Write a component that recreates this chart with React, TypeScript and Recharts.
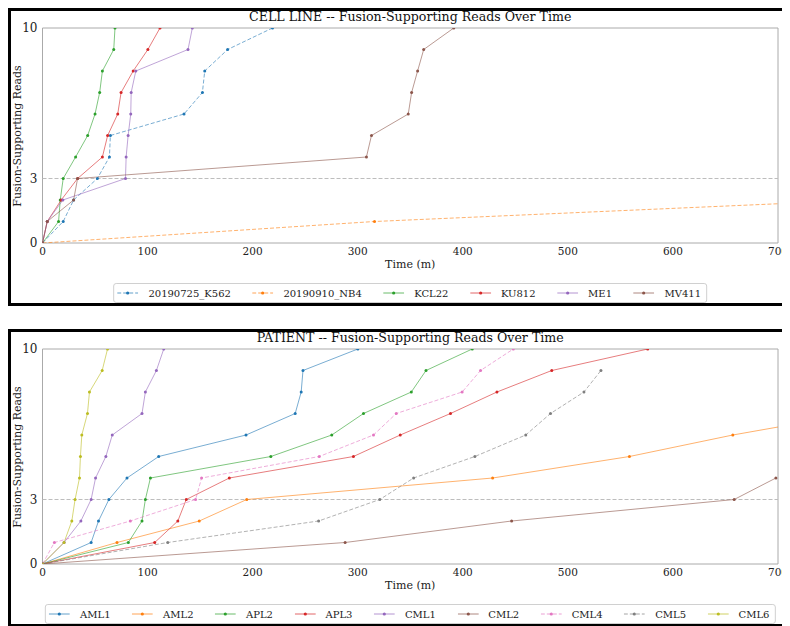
import React from 'react';
import { LineChart, Line, XAxis, YAxis, ReferenceLine, ReferenceArea } from 'recharts';

const readCounts = [0, 1, 2, 3, 4, 5, 6, 7, 8, 9, 10];
const xTicks = [0, 100, 200, 300, 400, 500, 600, 700];
const yTicks = [0, 3, 10];

// CELL LINE panel: time (minutes) at which each read count was reached
const k562Times = [0, 19.7, 29.6, 52.2, 63.7, 64.6, 134.7, 152.2, 154.4, 176.2, 218.9];
const nb4Times = [0, 316, 781];
const kcl22Times = [0, 15.3, 16.9, 19.7, 31.5, 43, 50, 54.4, 57, 67.8, 69];
const ku812Times = [0, 4.5, 17.8, 33.4, 57, 62, 71.6, 74.8, 86.3, 100.3, 111.8];
const me1Times = [0, 4.5, 19.4, 79, 79.6, 81.5, 84, 84.4, 88.8, 138.5, 142.6];
const mv411Times = [0, 4.5, 29.6, 33.4, 308.3, 313.1, 348.1, 351.3, 357, 362.8, 391.4];

// PATIENT panel
const aml1Times = [0, 46.3, 53.3, 63.2, 80.4, 110.6, 193.7, 240.5, 246.2, 247.9, 300.1];
const aml2Times = [0, 70.9, 149.2, 194.4, 428.4, 558.6, 657, 773];
const apl2Times = [0, 81.7, 94.7, 97.9, 102.7, 217.3, 275.3, 305.5, 351, 365, 409];
const apl3Times = [0, 106.8, 128.8, 136.8, 177.8, 295.9, 340.5, 388.3, 432.5, 484.7, 576];
const cml1Times = [0, 20.5, 36.5, 46.3, 50.5, 60.3, 66.4, 94.7, 97.9, 108.4, 115.4];
const cml2Times = [0, 288, 446.5, 658.3, 698];
const cml4Times = [0, 11.3, 83.6, 145.7, 151.4, 263.4, 315, 336.7, 399.4, 416.9, 448.1];
const cml5Times = [0, 119.2, 262.8, 321, 353.2, 411.5, 459.9, 483.5, 515.3, 531.5];
const cml6Times = [0, 20.5, 27.9, 31, 35.2, 36.1, 37.4, 42.8, 44.7, 56.8, 61.9];

type Series = { name: string; times: number[]; color: string; dashed?: boolean };

const cellSeries: Series[] = [
  { name: '20190725_K562', times: k562Times, color: '#1f77b4', dashed: true },
  { name: '20190910_NB4', times: nb4Times, color: '#ff7f0e', dashed: true },
  { name: 'KCL22', times: kcl22Times, color: '#2ca02c' },
  { name: 'KU812', times: ku812Times, color: '#d62728' },
  { name: 'ME1', times: me1Times, color: '#9467bd' },
  { name: 'MV411', times: mv411Times, color: '#8c564b' },
];

const patientSeries: Series[] = [
  { name: 'AML1', times: aml1Times, color: '#1f77b4' },
  { name: 'AML2', times: aml2Times, color: '#ff7f0e' },
  { name: 'APL2', times: apl2Times, color: '#2ca02c' },
  { name: 'APL3', times: apl3Times, color: '#d62728' },
  { name: 'CML1', times: cml1Times, color: '#9467bd' },
  { name: 'CML2', times: cml2Times, color: '#8c564b' },
  { name: 'CML4', times: cml4Times, color: '#e377c2', dashed: true },
  { name: 'CML5', times: cml5Times, color: '#7f7f7f', dashed: true },
  { name: 'CML6', times: cml6Times, color: '#bcbd22' },
];

const toPoints = (times: number[]) => times.map((t, i) => ({ t, v: readCounts[i] }));

const W = 776;
const H = 292;
const EXTRA = 14;
const PLOT_LEFT = 31.5;
const PLOT_RIGHT_MARGIN = 9;
const PLOT_TOP = 17;
const PLOT_BOTTOM = 232;
const PLOT_CX = (PLOT_LEFT + (W - PLOT_RIGHT_MARGIN)) / 2;

const serif = '"DejaVu Serif"';

const XTick = (props: any) => {
  const { x, y, payload } = props;
  return (
    <text x={x} y={y + 12} textAnchor="middle" fontFamily={serif} fontSize={10.5} fill="#222">
      {payload.value}
    </text>
  );
};

const LegendBox = ({ series, gap }: { series: Series[]; gap: number }) => (
  <div
    style={{
      position: 'absolute',
      top: 272,
      left: PLOT_CX,
      transform: 'translateX(-50%)',
      height: 18,
      border: '1px solid #d0d0d0',
      borderRadius: 3,
      background: '#fff',
      display: 'flex',
      alignItems: 'center',
      padding: '0 5px 0 3px',
      whiteSpace: 'nowrap',
      fontFamily: serif,
      fontSize: 10,
      color: '#222',
    }}
  >
    {series.map((s, i) => (
      <div key={s.name} style={{ display: 'flex', alignItems: 'center', marginLeft: i === 0 ? 0 : gap }}>
        <svg width={21} height={10} style={{ display: 'block' }}>
          <line
            x1={0}
            y1={5}
            x2={21}
            y2={5}
            stroke={s.color}
            strokeOpacity={0.7}
            strokeWidth={1}
            strokeDasharray={s.dashed ? '4 2' : undefined}
          />
          <circle cx={10.5} cy={5} r={1.6} fill={s.color} />
        </svg>
        <span style={{ marginLeft: 10 }}>{s.name}</span>
      </div>
    ))}
  </div>
);

const Panel = ({ title, series, legendGap, marginBottom }: { title: string; series: Series[]; legendGap: number; marginBottom: number }) => (
  <div
    style={{
      position: 'relative',
      width: W,
      height: H,
      border: '3px solid #000',
      marginBottom,
      background: '#fff',
    }}
  >
    <div style={{ position: 'absolute', left: 0, top: 0 }}>
      <LineChart
        width={W + EXTRA}
        height={H}
        margin={{ top: PLOT_TOP, right: PLOT_RIGHT_MARGIN + EXTRA, bottom: H - PLOT_BOTTOM - 30, left: 0 }}
      >
        <XAxis
          type="number"
          dataKey="t"
          domain={[0, 700]}
          ticks={xTicks}
          allowDataOverflow
          axisLine={false}
          tickLine={false}
          tickSize={0}
          tickMargin={0}
          height={30}
          tick={<XTick />}
          interval={0}
        />
        <YAxis
          type="number"
          dataKey="v"
          domain={[0, 10]}
          ticks={yTicks}
          allowDataOverflow
          axisLine={false}
          tickLine={false}
          tickSize={0}
          tickMargin={5}
          width={PLOT_LEFT}
          tick={{ fontFamily: serif, fontSize: 12, fill: '#222' }}
          interval={0}
        />
        <ReferenceLine y={3} stroke="#bdbdbd" strokeDasharray="4 2" strokeWidth={1} />
        {series.map((s) => (
          <Line
            key={s.name}
            data={toPoints(s.times)}
            dataKey="v"
            name={s.name}
            type="linear"
            stroke={s.color}
            strokeOpacity={0.6}
            strokeWidth={1}
            strokeDasharray={s.dashed ? '4 2' : undefined}
            dot={{ r: 1.5, fill: s.color, stroke: 'none', fillOpacity: 1 }}
            activeDot={false}
            isAnimationActive={false}
          />
        ))}
        <ReferenceArea x1={0} x2={700} y1={0} y2={10} fill="none" stroke="#aaaaaa" strokeWidth={1} ifOverflow="visible" />
      </LineChart>
    </div>
    <div
      style={{
        position: 'absolute',
        top: -2,
        left: PLOT_CX,
        transform: 'translateX(-50%)',
        fontFamily: serif,
        fontSize: 12.6,
        lineHeight: '16px',
        whiteSpace: 'nowrap',
        color: '#111',
      }}
    >
      {title}
    </div>
    <div
      style={{
        position: 'absolute',
        top: (PLOT_TOP + PLOT_BOTTOM) / 2,
        left: 6,
        transform: 'translate(-50%, -50%) rotate(-90deg)',
        fontFamily: serif,
        fontSize: 11,
        whiteSpace: 'nowrap',
        color: '#222',
      }}
    >
      Fusion-Supporting Reads
    </div>
    <div
      style={{
        position: 'absolute',
        top: 253,
        left: PLOT_CX,
        transform: 'translate(-50%, -50%)',
        fontFamily: serif,
        fontSize: 11,
        whiteSpace: 'nowrap',
        color: '#222',
      }}
    >
      Time (m)
    </div>
    <LegendBox series={series} gap={legendGap} />
  </div>
);

export default function App() {
  return (
    <div style={{ width: 782 }}>
      <style>{'html, body { overflow: hidden; } .recharts-surface { overflow: visible; }'}</style>
      <Panel title="CELL LINE -- Fusion-Supporting Reads Over Time" series={cellSeries} legendGap={21.5} marginBottom={23} />
      <Panel title="PATIENT -- Fusion-Supporting Reads Over Time" series={patientSeries} legendGap={21.5} marginBottom={0} />
    </div>
  );
}
